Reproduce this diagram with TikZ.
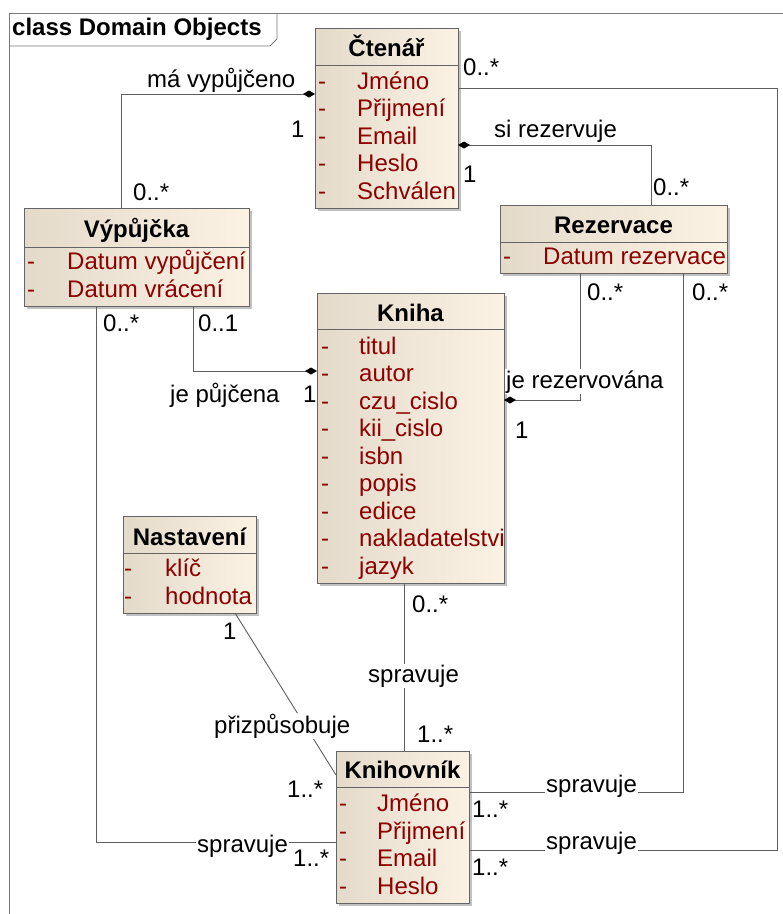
\documentclass[tikz,border=0pt]{standalone}
\usepackage{fontspec}
\setmainfont{Liberation Sans}
\usetikzlibrary{arrows.meta,shadows}
\definecolor{boxL}{RGB}{228,218,202}
\definecolor{boxR}{RGB}{251,242,228}
\definecolor{boxline}{RGB}{100,100,100}
\definecolor{attrcol}{RGB}{140,0,0}
\definecolor{linecol}{RGB}{95,95,95}
\definecolor{framecol}{RGB}{120,120,120}
\tikzset{
 cls/.style={draw=boxline, line width=0.9pt, left color=boxL, right color=boxR, anchor=north west, inner sep=0pt, outer sep=0pt,
   drop shadow={shadow xshift=3pt, shadow yshift=-3pt, fill=black!40, opacity=0.6}},
 sepline/.style={draw=boxline, line width=0.9pt},
 ttl/.style={anchor=base, inner sep=0pt, font=\bfseries\fontsize{24}{28}\selectfont},
 attr/.style={anchor=base west, inner sep=0pt, text=attrcol, font=\fontsize{24}{28}\selectfont},
 lbl/.style={anchor=base west, inner sep=0pt, font=\fontsize{24}{28}\selectfont},
 wlbl/.style={lbl, fill=white, inner xsep=1pt, inner ysep=1pt},
 conn/.style={draw=linecol, line width=0.9pt},
}
\begin{document}
\begin{tikzpicture}[x=1pt,y=-1pt,>={Diamond[length=12pt,width=7pt,color=black]}]
\useasboundingbox (0,0) rectangle (783,914);
\fill[white] (0,0) rectangle (783,914);
% frame
\draw[framecol, line width=0.9pt] (9,914) -- (9,13) -- (783,13);
\draw[framecol, line width=0.9pt] (9,46) -- (270,46) -- (277,39) -- (277,13);
\node[lbl, font=\bfseries\fontsize{24}{28}\selectfont] (frametitle) at (12,35) {class Domain Objects};

% ---------- boxes ----------
\node[cls, minimum width=143pt, minimum height=180pt] (ctenar) at (315,28) {};
\node[cls, minimum width=225pt, minimum height=98pt] (vyp) at (24,208) {};
\node[cls, minimum width=227pt, minimum height=68pt] (rez) at (500,205) {};
\node[cls, minimum width=187pt, minimum height=290pt] (kniha) at (317,293) {};
\node[cls, minimum width=133pt, minimum height=97pt] (nast) at (123,516) {};
\node[cls, minimum width=133pt, minimum height=152pt] (knih) at (336,751) {};

% ---------- connectors ----------
\draw[conn, <-] (ctenar.west |- 0,94) -| (vyp.north -| 121,0);
\draw[conn, <-] (ctenar.east |- 0,145) -| (rez.north -| 651,0);
\draw[conn] (ctenar.east |- 0,88) -| (777,850) -- (knih.east |- 0,850);
\draw[conn, ->] (vyp.south -| 193,0) |- (kniha.west |- 0,371);
\draw[conn, ->] (rez.south -| 580,0) |- (kniha.east |- 0,400);
\draw[conn] (rez.south -| 683,0) |- (knih.east |- 0,792);
\draw[conn] (vyp.south -| 96,0) |- (knih.west |- 0,842);
\draw[conn] (kniha.south -| 404,0) -- (knih.north -| 404,0);
\draw[conn] (nast.south -| 235,0) -- (knih.west |- 0,775);

% ---------- class contents ----------
% Ctenar
\draw[sepline] (ctenar.west |- 0,65) -- (ctenar.east |- 0,65);
\node[ttl] (ctenar-t) at (386.5,56) {Čtenář};
\foreach \y/\t [count=\i] in {89/Jméno,116.5/Přijmení,144/Email,171.5/Heslo,199/Schválen}{
  \node[attr] (ctenar-d\i) at (318,\y) {-};
  \node[attr] (ctenar-a\i) at (357,\y) {\t};
}
% Vypujcka
\draw[sepline] (vyp.west |- 0,247) -- (vyp.east |- 0,247);
\node[ttl] (vyp-t) at (136.5,237) {Výpůjčka};
\foreach \y/\t [count=\i] in {269.5/Datum vypůjčení,297/Datum vrácení}{
  \node[attr] (vyp-d\i) at (27,\y) {-};
  \node[attr] (vyp-a\i) at (67,\y) {\t};
}
% Rezervace
\draw[sepline] (rez.west |- 0,242) -- (rez.east |- 0,242);
\node[ttl] (rez-t) at (613.5,233) {Rezervace};
\node[attr] (rez-d1) at (503,264) {-};
\node[attr] (rez-a1) at (543,264) {Datum rezervace};
% Kniha
\draw[sepline] (kniha.west |- 0,329) -- (kniha.east |- 0,329);
\node[ttl] (kniha-t) at (410.5,321) {Kniha};
\foreach \y/\t [count=\i] in {354/titul,381.5/autor,409/czu\_cislo,436.5/kii\_cislo,464/isbn,491.5/popis,519/edice,546.5/nakladatelstvi,574/jazyk}{
  \node[attr] (kniha-d\i) at (321,\y) {-};
  \node[attr] (kniha-a\i) at (359,\y) {\t};
}
% Nastaveni
\draw[sepline] (nast.west |- 0,553) -- (nast.east |- 0,553);
\node[ttl] (nast-t) at (189.5,545) {Nastavení};
\foreach \y/\t [count=\i] in {576.5/klíč,604/hodnota}{
  \node[attr] (nast-d\i) at (124,\y) {-};
  \node[attr] (nast-a\i) at (165,\y) {\t};
}
% Knihovnik
\draw[sepline] (knih.west |- 0,787) -- (knih.east |- 0,787);
\node[ttl] (knih-t) at (402.5,778) {Knihovník};
\foreach \y/\t [count=\i] in {811.5/Jméno,839/Přijmení,866.5/Email,894/Heslo}{
  \node[attr] (knih-d\i) at (339,\y) {-};
  \node[attr] (knih-a\i) at (377,\y) {\t};
}

% ---------- labels ----------
\node[lbl] (l1) at (147,87) {má vypůjčeno};
\node[lbl] (l2) at (291,137) {1};
\node[lbl] (l3) at (133,200) {0..*};
\node[lbl] (l4) at (463,75) {0..*};
\node[lbl] (l5) at (494,137) {si rezervuje};
\node[lbl] (l6) at (463,182) {1};
\node[lbl] (l7) at (653,195) {0..*};
\node[lbl] (l8) at (103,331) {0..*};
\node[lbl] (l9) at (198,331) {0..1};
\node[lbl] (l10) at (170,402) {je půjčena};
\node[lbl] (l11) at (303,402) {1};
\node[lbl] (l12) at (587,300) {0..*};
\node[lbl] (l13) at (692,300) {0..*};
\node[wlbl] (l14) at (505,388) {je rezervována};
\node[lbl] (l15) at (515,438) {1};
\node[lbl] (l16) at (412,612) {0..*};
\node[wlbl] (l17) at (367,682) {spravuje};
\node[lbl] (l18) at (417,742) {1..*};
\node[lbl] (l19) at (223,639) {1};
\node[wlbl] (l20) at (213,733) {přizpůsobuje};
\node[lbl] (l21) at (287,797) {1..*};
\node[wlbl] (l22) at (545,792) {spravuje};
\node[lbl] (l23) at (472,817) {1..*};
\node[wlbl] (l24) at (545,849) {spravuje};
\node[lbl] (l25) at (472,875) {1..*};
\node[wlbl] (l26) at (196,852) {spravuje};
\node[lbl] (l27) at (293,866) {1..*};
\end{tikzpicture}
\end{document}
